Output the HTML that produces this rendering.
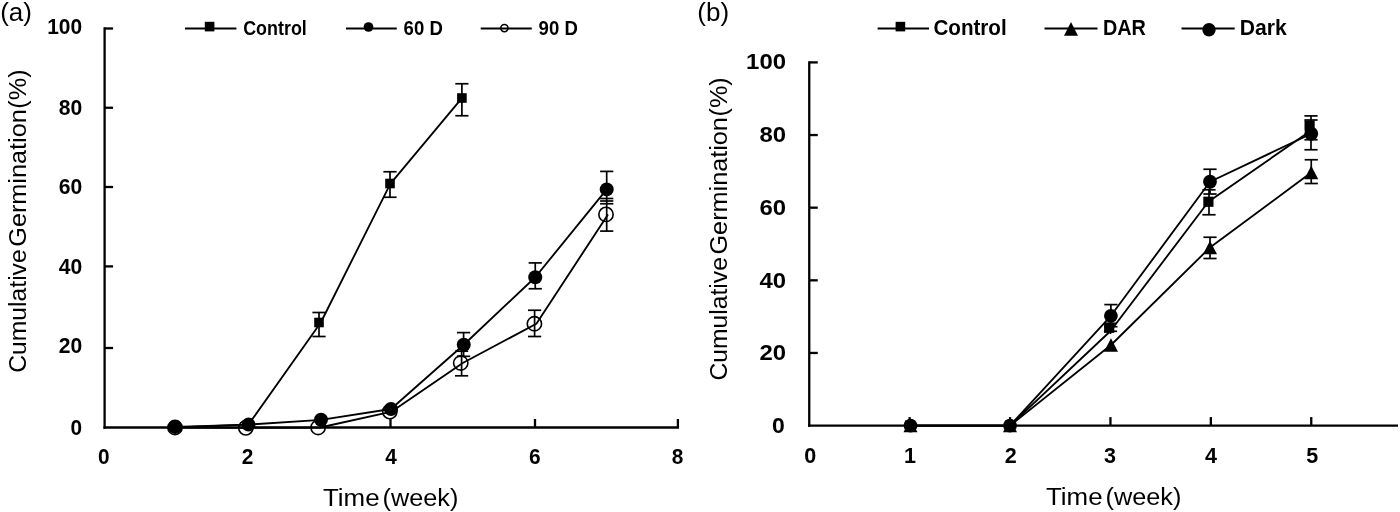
<!DOCTYPE html>
<html lang="en">
<head>
<meta charset="utf-8">
<title>Cumulative germination charts</title>
<style>
html,body{margin:0;padding:0;background:#fff;}
body{width:1400px;height:512px;overflow:hidden;}
svg{display:block;}
svg text{font-family:"Liberation Sans", sans-serif;fill:#000;}
</style>
</head>
<body>
<svg width="1400" height="512" viewBox="0 0 1400 512">
<rect x="0" y="0" width="1400" height="512" fill="#fff"/>
<g id="chart-a">
<line x1="104.60" y1="27.35" x2="104.60" y2="428.65" stroke="#000" stroke-width="2.3" />
<line x1="103.45" y1="427.50" x2="679.05" y2="427.50" stroke="#000" stroke-width="2.3" />
<line x1="104.60" y1="348.00" x2="113.10" y2="348.00" stroke="#000" stroke-width="2.3" />
<line x1="104.60" y1="266.40" x2="113.10" y2="266.40" stroke="#000" stroke-width="2.3" />
<line x1="104.60" y1="187.00" x2="113.10" y2="187.00" stroke="#000" stroke-width="2.3" />
<line x1="104.60" y1="107.75" x2="113.10" y2="107.75" stroke="#000" stroke-width="2.3" />
<line x1="104.60" y1="28.50" x2="113.10" y2="28.50" stroke="#000" stroke-width="2.3" />
<line x1="247.50" y1="427.50" x2="247.50" y2="419.00" stroke="#000" stroke-width="2.3" />
<line x1="390.50" y1="427.50" x2="390.50" y2="419.00" stroke="#000" stroke-width="2.3" />
<line x1="535.00" y1="427.50" x2="535.00" y2="419.00" stroke="#000" stroke-width="2.3" />
<line x1="677.90" y1="427.50" x2="677.90" y2="419.00" stroke="#000" stroke-width="2.3" />
<text x="82.20" y="33.50" font-size="21.3" font-weight="bold" text-anchor="end" textLength="35.0" lengthAdjust="spacingAndGlyphs" >100</text>
<text x="82.20" y="114.75" font-size="21.3" font-weight="bold" text-anchor="end" textLength="23.5" lengthAdjust="spacingAndGlyphs" >80</text>
<text x="82.20" y="194.10" font-size="21.3" font-weight="bold" text-anchor="end" textLength="23.5" lengthAdjust="spacingAndGlyphs" >60</text>
<text x="82.20" y="273.60" font-size="21.3" font-weight="bold" text-anchor="end" textLength="23.5" lengthAdjust="spacingAndGlyphs" >40</text>
<text x="82.20" y="353.00" font-size="21.3" font-weight="bold" text-anchor="end" textLength="23.5" lengthAdjust="spacingAndGlyphs" >20</text>
<text x="82.20" y="434.50" font-size="21.3" font-weight="bold" text-anchor="end" textLength="11.6" lengthAdjust="spacingAndGlyphs" >0</text>
<text x="103.75" y="464.40" font-size="21.3" font-weight="bold" text-anchor="middle" textLength="11.6" lengthAdjust="spacingAndGlyphs" >0</text>
<text x="247.50" y="464.40" font-size="21.3" font-weight="bold" text-anchor="middle" textLength="11.6" lengthAdjust="spacingAndGlyphs" >2</text>
<text x="391.00" y="464.40" font-size="21.3" font-weight="bold" text-anchor="middle" textLength="11.6" lengthAdjust="spacingAndGlyphs" >4</text>
<text x="534.70" y="464.40" font-size="21.3" font-weight="bold" text-anchor="middle" textLength="11.6" lengthAdjust="spacingAndGlyphs" >6</text>
<text x="677.50" y="464.40" font-size="21.3" font-weight="bold" text-anchor="middle" textLength="11.6" lengthAdjust="spacingAndGlyphs" >8</text>
<text y="505.8" font-size="24.4"><tspan x="323" textLength="56.6" lengthAdjust="spacingAndGlyphs">Time</tspan> <tspan x="382.5" textLength="75.8" lengthAdjust="spacingAndGlyphs">(week)</tspan></text>
<text transform="translate(26.2,372.8) rotate(-90)" font-size="24.4"><tspan x="0" textLength="123.5" lengthAdjust="spacingAndGlyphs">Cumulative</tspan> <tspan x="126.1" textLength="137.4" lengthAdjust="spacingAndGlyphs">Germination</tspan> <tspan x="264.1" textLength="39.3" lengthAdjust="spacingAndGlyphs">(%)</tspan></text>
<text x="0.20" y="21.30" font-size="26" font-weight="normal" text-anchor="start" >(a)</text>
<line x1="319.00" y1="312.50" x2="319.00" y2="336.50" stroke="#000" stroke-width="1.7" />
<line x1="312.40" y1="312.50" x2="325.60" y2="312.50" stroke="#000" stroke-width="1.7" />
<line x1="312.40" y1="336.50" x2="325.60" y2="336.50" stroke="#000" stroke-width="1.7" />
<line x1="390.00" y1="171.75" x2="390.00" y2="197.25" stroke="#000" stroke-width="1.7" />
<line x1="383.40" y1="171.75" x2="396.60" y2="171.75" stroke="#000" stroke-width="1.7" />
<line x1="383.40" y1="197.25" x2="396.60" y2="197.25" stroke="#000" stroke-width="1.7" />
<line x1="461.90" y1="83.75" x2="461.90" y2="115.75" stroke="#000" stroke-width="1.7" />
<line x1="455.30" y1="83.75" x2="468.50" y2="83.75" stroke="#000" stroke-width="1.7" />
<line x1="455.30" y1="115.75" x2="468.50" y2="115.75" stroke="#000" stroke-width="1.7" />
<line x1="463.60" y1="332.60" x2="463.60" y2="356.30" stroke="#000" stroke-width="1.7" />
<line x1="457.00" y1="332.60" x2="470.20" y2="332.60" stroke="#000" stroke-width="1.7" />
<line x1="457.00" y1="356.30" x2="470.20" y2="356.30" stroke="#000" stroke-width="1.7" />
<line x1="535.25" y1="262.90" x2="535.25" y2="288.75" stroke="#000" stroke-width="1.7" />
<line x1="528.65" y1="262.90" x2="541.85" y2="262.90" stroke="#000" stroke-width="1.7" />
<line x1="528.65" y1="288.75" x2="541.85" y2="288.75" stroke="#000" stroke-width="1.7" />
<line x1="461.60" y1="351.20" x2="461.60" y2="375.80" stroke="#000" stroke-width="1.7" />
<line x1="455.00" y1="351.20" x2="468.20" y2="351.20" stroke="#000" stroke-width="1.7" />
<line x1="455.00" y1="375.80" x2="468.20" y2="375.80" stroke="#000" stroke-width="1.7" />
<line x1="534.60" y1="310.25" x2="534.60" y2="336.50" stroke="#000" stroke-width="1.7" />
<line x1="528.00" y1="310.25" x2="541.20" y2="310.25" stroke="#000" stroke-width="1.7" />
<line x1="528.00" y1="336.50" x2="541.20" y2="336.50" stroke="#000" stroke-width="1.7" />
<line x1="606.70" y1="171.40" x2="606.70" y2="231.10" stroke="#000" stroke-width="1.7" />
<line x1="600.10" y1="171.40" x2="613.30" y2="171.40" stroke="#000" stroke-width="1.7" />
<line x1="600.10" y1="198.50" x2="613.30" y2="198.50" stroke="#000" stroke-width="1.7" />
<line x1="600.10" y1="201.00" x2="613.30" y2="201.00" stroke="#000" stroke-width="1.7" />
<line x1="600.10" y1="203.75" x2="613.30" y2="203.75" stroke="#000" stroke-width="1.7" />
<line x1="600.10" y1="231.10" x2="613.30" y2="231.10" stroke="#000" stroke-width="1.7" />
<polyline fill="none" stroke="#000" stroke-width="1.85" stroke-linejoin="round" points="175.00,427.30 248.50,424.60 320.80,322.50 390.30,183.80 461.90,98.10"/>
<polyline fill="none" stroke="#000" stroke-width="1.85" stroke-linejoin="round" points="175.00,427.50 247.80,427.80 320.10,427.50 391.80,411.60 462.75,363.00 536.40,323.75 608.00,214.40"/>
<polyline fill="none" stroke="#000" stroke-width="1.85" stroke-linejoin="round" points="175.20,427.00 248.50,424.60 321.00,419.80 391.00,409.00 463.75,344.75 535.25,277.25 606.70,189.40"/>
<rect x="314.20" y="317.70" width="9.6" height="9.6" fill="#000"/>
<rect x="385.20" y="178.70" width="9.6" height="9.6" fill="#000"/>
<rect x="457.10" y="93.20" width="9.6" height="9.6" fill="#000"/>
<circle cx="175.00" cy="427.50" r="7.15" fill="none" stroke="#000" stroke-width="1.6"/>
<circle cx="245.80" cy="427.80" r="7.15" fill="none" stroke="#000" stroke-width="1.6"/>
<circle cx="318.10" cy="427.50" r="7.15" fill="none" stroke="#000" stroke-width="1.6"/>
<circle cx="389.80" cy="411.60" r="7.15" fill="none" stroke="#000" stroke-width="1.6"/>
<circle cx="460.75" cy="363.00" r="7.15" fill="none" stroke="#000" stroke-width="1.6"/>
<circle cx="534.40" cy="323.75" r="7.15" fill="none" stroke="#000" stroke-width="1.6"/>
<circle cx="606.00" cy="214.40" r="7.15" fill="none" stroke="#000" stroke-width="1.6"/>
<circle cx="175.20" cy="427.00" r="7.0" fill="#000"/>
<circle cx="248.50" cy="424.60" r="7.0" fill="#000"/>
<circle cx="321.00" cy="419.80" r="7.0" fill="#000"/>
<circle cx="391.00" cy="409.00" r="7.0" fill="#000"/>
<circle cx="463.75" cy="344.75" r="7.0" fill="#000"/>
<circle cx="535.25" cy="277.25" r="7.0" fill="#000"/>
<circle cx="606.70" cy="189.40" r="7.0" fill="#000"/>
<line x1="185.00" y1="28.50" x2="236.40" y2="28.50" stroke="#000" stroke-width="1.85" />
<rect x="204.80" y="21.80" width="9.6" height="9.6" fill="#000"/>
<text x="243.20" y="35.10" font-size="19.3" font-weight="bold" text-anchor="start" textLength="63.6" lengthAdjust="spacingAndGlyphs" >Control</text>
<line x1="346.00" y1="28.50" x2="396.80" y2="28.50" stroke="#000" stroke-width="1.85" />
<circle cx="368.50" cy="27.00" r="4.85" fill="#000"/>
<text x="403.60" y="35.10" font-size="19.3" font-weight="bold" text-anchor="start" textLength="39.2" lengthAdjust="spacingAndGlyphs" >60 D</text>
<line x1="480.70" y1="28.50" x2="531.80" y2="28.50" stroke="#000" stroke-width="1.85" />
<circle cx="504.40" cy="28.10" r="3.6" fill="none" stroke="#000" stroke-width="1.6"/>
<text x="538.60" y="35.10" font-size="19.3" font-weight="bold" text-anchor="start" textLength="39.2" lengthAdjust="spacingAndGlyphs" >90 D</text>
</g>
<g id="chart-b">
<line x1="809.25" y1="61.25" x2="809.25" y2="426.75" stroke="#000" stroke-width="2.3" />
<line x1="808.10" y1="425.60" x2="1398.00" y2="425.60" stroke="#000" stroke-width="2.3" />
<line x1="809.25" y1="352.96" x2="817.75" y2="352.96" stroke="#000" stroke-width="2.3" />
<line x1="809.25" y1="280.32" x2="817.75" y2="280.32" stroke="#000" stroke-width="2.3" />
<line x1="809.25" y1="207.68" x2="817.75" y2="207.68" stroke="#000" stroke-width="2.3" />
<line x1="809.25" y1="135.04" x2="817.75" y2="135.04" stroke="#000" stroke-width="2.3" />
<line x1="809.25" y1="62.40" x2="817.75" y2="62.40" stroke="#000" stroke-width="2.3" />
<line x1="909.65" y1="425.60" x2="909.65" y2="417.10" stroke="#000" stroke-width="2.3" />
<line x1="1010.05" y1="425.60" x2="1010.05" y2="417.10" stroke="#000" stroke-width="2.3" />
<line x1="1110.45" y1="425.60" x2="1110.45" y2="417.10" stroke="#000" stroke-width="2.3" />
<line x1="1210.85" y1="425.60" x2="1210.85" y2="417.10" stroke="#000" stroke-width="2.3" />
<line x1="1311.25" y1="425.60" x2="1311.25" y2="417.10" stroke="#000" stroke-width="2.3" />
<text x="784.80" y="433.00" font-size="22.7" font-weight="bold" text-anchor="end" textLength="12.8" lengthAdjust="spacingAndGlyphs" >0</text>
<text x="786.10" y="360.36" font-size="22.7" font-weight="bold" text-anchor="end" textLength="26.6" lengthAdjust="spacingAndGlyphs" >20</text>
<text x="786.10" y="287.72" font-size="22.7" font-weight="bold" text-anchor="end" textLength="26.6" lengthAdjust="spacingAndGlyphs" >40</text>
<text x="786.10" y="215.08" font-size="22.7" font-weight="bold" text-anchor="end" textLength="26.6" lengthAdjust="spacingAndGlyphs" >60</text>
<text x="786.10" y="142.44" font-size="22.7" font-weight="bold" text-anchor="end" textLength="26.6" lengthAdjust="spacingAndGlyphs" >80</text>
<text x="786.10" y="69.20" font-size="22.7" font-weight="bold" text-anchor="end" textLength="40.0" lengthAdjust="spacingAndGlyphs" >100</text>
<text x="810.20" y="462.80" font-size="22.7" font-weight="bold" text-anchor="middle" textLength="12.0" lengthAdjust="spacingAndGlyphs" >0</text>
<text x="910.00" y="462.80" font-size="22.7" font-weight="bold" text-anchor="middle" textLength="12.0" lengthAdjust="spacingAndGlyphs" >1</text>
<text x="1010.80" y="462.80" font-size="22.7" font-weight="bold" text-anchor="middle" textLength="12.0" lengthAdjust="spacingAndGlyphs" >2</text>
<text x="1110.00" y="462.80" font-size="22.7" font-weight="bold" text-anchor="middle" textLength="12.0" lengthAdjust="spacingAndGlyphs" >3</text>
<text x="1211.00" y="462.80" font-size="22.7" font-weight="bold" text-anchor="middle" textLength="12.0" lengthAdjust="spacingAndGlyphs" >4</text>
<text x="1312.30" y="462.80" font-size="22.7" font-weight="bold" text-anchor="middle" textLength="12.0" lengthAdjust="spacingAndGlyphs" >5</text>
<text y="504.8" font-size="24.4"><tspan x="1046" textLength="56.6" lengthAdjust="spacingAndGlyphs">Time</tspan> <tspan x="1105.5" textLength="75.8" lengthAdjust="spacingAndGlyphs">(week)</tspan></text>
<text transform="translate(727.3,380.6) rotate(-90)" font-size="24.4"><tspan x="0" textLength="123.5" lengthAdjust="spacingAndGlyphs">Cumulative</tspan> <tspan x="126.1" textLength="137.4" lengthAdjust="spacingAndGlyphs">Germination</tspan> <tspan x="264.1" textLength="39.3" lengthAdjust="spacingAndGlyphs">(%)</tspan></text>
<text x="697.30" y="21.20" font-size="26" font-weight="normal" text-anchor="start" >(b)</text>
<line x1="1110.90" y1="304.60" x2="1110.90" y2="327.00" stroke="#000" stroke-width="1.7" />
<line x1="1104.30" y1="304.60" x2="1117.50" y2="304.60" stroke="#000" stroke-width="1.7" />
<line x1="1104.30" y1="326.70" x2="1117.50" y2="326.70" stroke="#000" stroke-width="1.7" />
<line x1="1110.50" y1="320.00" x2="1110.50" y2="334.00" stroke="#000" stroke-width="1.7" />
<line x1="1103.90" y1="323.40" x2="1117.10" y2="323.40" stroke="#000" stroke-width="1.7" />
<line x1="1103.90" y1="331.30" x2="1117.10" y2="331.30" stroke="#000" stroke-width="1.7" />
<line x1="1210.00" y1="169.25" x2="1210.00" y2="194.00" stroke="#000" stroke-width="1.7" />
<line x1="1203.40" y1="169.25" x2="1216.60" y2="169.25" stroke="#000" stroke-width="1.7" />
<line x1="1203.40" y1="194.00" x2="1216.60" y2="194.00" stroke="#000" stroke-width="1.7" />
<line x1="1209.00" y1="189.80" x2="1209.00" y2="214.75" stroke="#000" stroke-width="1.7" />
<line x1="1202.40" y1="189.80" x2="1215.60" y2="189.80" stroke="#000" stroke-width="1.7" />
<line x1="1202.40" y1="214.75" x2="1215.60" y2="214.75" stroke="#000" stroke-width="1.7" />
<line x1="1210.00" y1="237.25" x2="1210.00" y2="258.50" stroke="#000" stroke-width="1.7" />
<line x1="1203.40" y1="237.25" x2="1216.60" y2="237.25" stroke="#000" stroke-width="1.7" />
<line x1="1203.40" y1="258.50" x2="1216.60" y2="258.50" stroke="#000" stroke-width="1.7" />
<line x1="1311.00" y1="115.90" x2="1311.00" y2="139.75" stroke="#000" stroke-width="1.7" />
<line x1="1304.40" y1="115.90" x2="1317.60" y2="115.90" stroke="#000" stroke-width="1.7" />
<line x1="1304.40" y1="139.75" x2="1317.60" y2="139.75" stroke="#000" stroke-width="1.7" />
<line x1="1311.00" y1="120.00" x2="1311.00" y2="149.75" stroke="#000" stroke-width="1.7" />
<line x1="1304.40" y1="120.00" x2="1317.60" y2="120.00" stroke="#000" stroke-width="1.7" />
<line x1="1304.40" y1="149.75" x2="1317.60" y2="149.75" stroke="#000" stroke-width="1.7" />
<line x1="1311.25" y1="159.75" x2="1311.25" y2="183.50" stroke="#000" stroke-width="1.7" />
<line x1="1304.65" y1="159.75" x2="1317.85" y2="159.75" stroke="#000" stroke-width="1.7" />
<line x1="1304.65" y1="183.50" x2="1317.85" y2="183.50" stroke="#000" stroke-width="1.7" />
<polyline fill="none" stroke="#000" stroke-width="1.85" stroke-linejoin="round" points="910.00,425.60 1010.00,425.60 1110.50,331.00 1208.40,201.75 1309.60,131.50"/>
<polyline fill="none" stroke="#000" stroke-width="1.85" stroke-linejoin="round" points="910.50,425.60 1010.00,425.60 1111.00,345.00 1210.00,247.50 1311.25,172.50"/>
<polyline fill="none" stroke="#000" stroke-width="1.85" stroke-linejoin="round" points="910.50,425.60 1010.00,425.60 1110.90,315.80 1210.00,181.75 1311.25,133.75"/>
<rect x="904.90" y="420.50" width="10.2" height="10.2" fill="#000"/>
<rect x="1004.90" y="420.50" width="10.2" height="10.2" fill="#000"/>
<rect x="1104.10" y="322.70" width="10.2" height="10.2" fill="#000"/>
<rect x="1203.30" y="196.65" width="10.2" height="10.2" fill="#000"/>
<rect x="1304.50" y="120.50" width="10.2" height="10.2" fill="#000"/>
<polygon points="910.50,418.85 917.50,432.35 903.50,432.35" fill="#000"/>
<polygon points="1010.00,418.85 1017.00,432.35 1003.00,432.35" fill="#000"/>
<polygon points="1111.00,338.25 1118.00,351.75 1104.00,351.75" fill="#000"/>
<polygon points="1210.00,240.75 1217.00,254.25 1203.00,254.25" fill="#000"/>
<polygon points="1311.25,165.75 1318.25,179.25 1304.25,179.25" fill="#000"/>
<circle cx="910.50" cy="425.60" r="6.9" fill="#000"/>
<circle cx="1010.00" cy="425.60" r="6.9" fill="#000"/>
<circle cx="1110.90" cy="315.80" r="6.9" fill="#000"/>
<circle cx="1210.00" cy="181.75" r="6.9" fill="#000"/>
<circle cx="1311.25" cy="133.75" r="6.9" fill="#000"/>
<line x1="877.60" y1="28.50" x2="929.00" y2="28.50" stroke="#000" stroke-width="1.85" />
<rect x="895.60" y="21.80" width="9.6" height="9.6" fill="#000"/>
<text x="933.40" y="35.40" font-size="21.8" font-weight="bold" text-anchor="start" textLength="73.3" lengthAdjust="spacingAndGlyphs" >Control</text>
<line x1="1044.50" y1="28.50" x2="1097.50" y2="28.50" stroke="#000" stroke-width="1.85" />
<polygon points="1071.00,21.95 1078.00,35.65 1064.00,35.65" fill="#000"/>
<text x="1102.90" y="35.40" font-size="21.8" font-weight="bold" text-anchor="start" textLength="43" lengthAdjust="spacingAndGlyphs" >DAR</text>
<line x1="1181.50" y1="28.50" x2="1234.70" y2="28.50" stroke="#000" stroke-width="1.85" />
<circle cx="1209.00" cy="29.70" r="6.7" fill="#000"/>
<text x="1239.80" y="35.40" font-size="21.8" font-weight="bold" text-anchor="start" textLength="47" lengthAdjust="spacingAndGlyphs" >Dark</text>
</g>
</svg>
</body>
</html>
